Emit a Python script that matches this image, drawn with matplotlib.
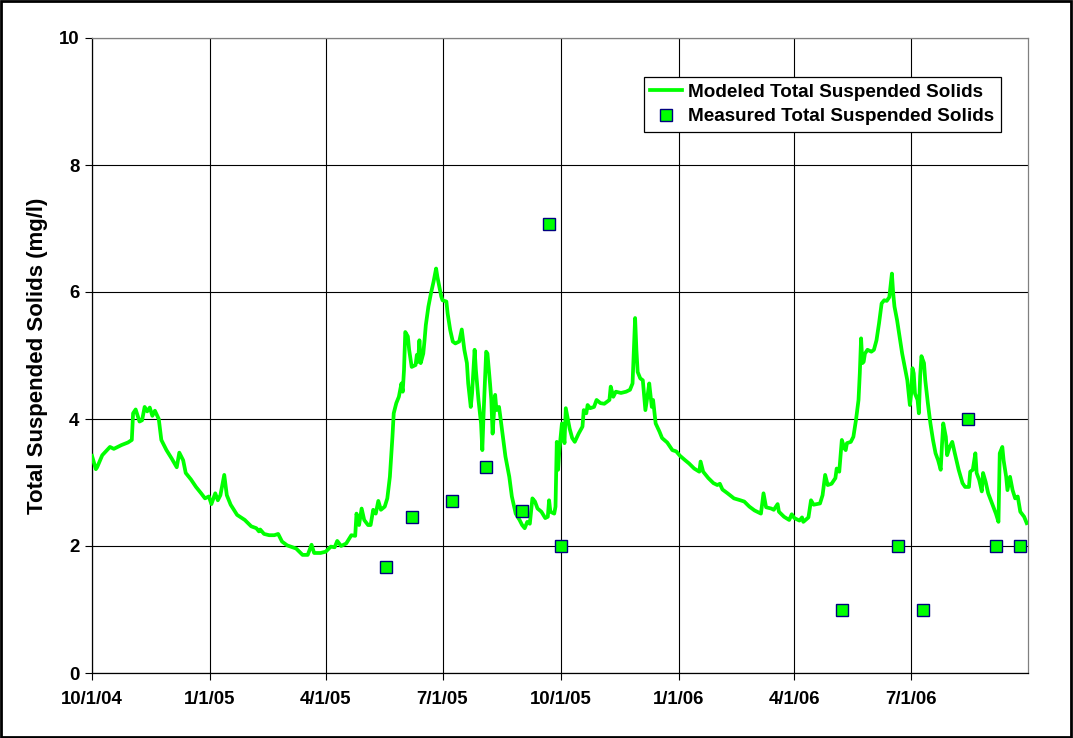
import datetime as dt
import matplotlib
matplotlib.use("Agg")
import matplotlib.pyplot as plt
from matplotlib.patches import Rectangle

# ---------------- data ----------------
base_date = dt.date(2004, 10, 1)

# modeled series: days after 10/1/04 and TSS (mg/l)
model_day = [
    0.0, 3.1, 4.9, 8.8, 14.0, 17.9, 23.1, 28.2, 31.7, 32.9, 34.0, 37.4, 39.9, 41.8, 43.8, 45.7,
    47.5, 49.0, 52.1, 54.7, 58.1, 62.5, 66.1, 68.7, 71.1, 73.7, 77.6, 81.5, 85.4, 88.5, 91.1,
    93.6, 96.3, 98.3, 100.9, 103.5, 105.6, 108.7, 113.9, 119.1, 124.3, 128.2, 130.0, 131.5,
    134.6, 138.5, 142.4, 145.0, 148.1, 152.8, 159.3, 164.4, 168.3, 171.4, 173.5, 178.8, 182.6,
    186.5, 189.1, 191.7, 194.3, 198.2, 202.6, 205.2, 206.5, 208.0, 210.4, 212.5, 215.0, 217.7,
    219.7, 221.5, 223.3, 225.4, 228.0, 230.6, 232.5, 234.0, 235.8, 237.6, 239.7, 241.5, 242.3,
    243.6, 244.4, 246.1, 247.5, 249.6, 252.1, 253.2, 254.5, 255.3, 256.6, 258.4, 259.9, 260.9,
    262.5, 264.4, 266.1, 268.2, 269.8, 272.1, 273.9, 276.0, 277.3, 279.1, 281.2, 283.8, 286.4,
    288.9, 290.3, 292.1, 293.6, 295.5, 296.7, 298.3, 299.8, 301.9, 303.3, 304.5, 305.8, 307.2,
    308.4, 310.3, 311.8, 312.8, 314.4, 315.7, 317.0, 318.8, 320.6, 322.7, 325.3, 327.9, 330.5,
    333.1, 335.6, 337.7, 339.5, 341.4, 343.4, 345.5, 347.3, 350.7, 353.3, 355.1, 356.4, 357.7,
    360.3, 361.6, 362.4, 363.6, 364.7, 366.3, 368.1, 369.9, 372.0, 374.5, 376.4, 379.8, 382.3,
    383.7, 385.8, 386.8, 388.9, 391.4, 393.5, 396.7, 399.8, 403.1, 404.9, 406.5, 408.3, 412.2,
    416.1, 419.5, 421.2, 422.6, 423.3, 424.4, 425.7, 427.8, 429.8, 431.7, 433.5, 434.8, 436.0,
    437.6, 439.5, 442.0, 444.6, 448.5, 452.4, 455.8, 458.4, 462.0, 465.4, 469.3, 473.2, 474.5,
    476.5, 480.2, 484.8, 487.4, 489.3, 491.3, 495.2, 500.4, 505.6, 508.2, 512.1, 516.0, 521.2,
    523.2, 525.1, 529.0, 531.5, 534.1, 535.4, 539.3, 543.2, 545.0, 547.1, 551.0, 553.5, 554.9,
    558.8, 560.9, 562.6, 567.9, 569.6, 571.2, 573.0, 576.9, 579.5, 580.8, 582.6, 584.2, 586.0,
    587.3, 588.6, 591.2, 593.0, 595.1, 597.1, 598.2, 599.0, 600.2, 601.6, 602.9, 604.9, 607.6,
    609.3, 611.1, 613.2, 615.3, 617.1, 619.7, 621.8, 623.1, 624.1, 625.7, 627.5, 629.3, 631.4,
    633.5, 635.3, 637.1, 638.1, 639.1, 640.5, 641.8, 643.0, 644.4, 645.7, 646.9, 648.2, 649.6,
    651.6, 653.5, 655.3, 657.3, 659.4, 661.2, 662.5, 663.8, 665.1, 666.4, 668.2, 670.3, 672.9,
    675.5, 678.1, 680.7, 683.3, 684.6, 686.4, 688.0, 689.7, 691.6, 693.2, 694.9, 696.7, 698.8,
    701.4, 704.0, 706.6, 707.9, 709.2, 710.5, 712.3, 713.8, 715.7, 717.5, 719.6, 721.6, 723.5,
    726.1, 728.9,
]
model_tss = [
    3.42, 3.21, 3.24, 3.43, 3.56, 3.53, 3.59, 3.63, 3.67, 4.09, 4.15, 3.96, 3.98, 4.19, 4.12, 4.18,
    4.05, 4.13, 4.00, 3.67, 3.51, 3.38, 3.24, 3.47, 3.35, 3.15, 3.05, 2.93, 2.83, 2.75, 2.78,
    2.66, 2.83, 2.72, 2.80, 3.12, 2.80, 2.65, 2.49, 2.41, 2.31, 2.28, 2.23, 2.26,
    2.19, 2.17, 2.17, 2.19, 2.07, 2.01, 1.96, 1.86, 1.86, 2.02, 1.89, 1.89, 1.91,
    1.99, 1.98, 2.08, 2.00, 2.04, 2.17, 2.16, 2.51, 2.33, 2.59, 2.41, 2.33, 2.33,
    2.57, 2.51, 2.71, 2.57, 2.62, 2.75, 3.09, 3.72, 4.09, 4.25, 4.35, 4.56, 4.43,
    4.77, 5.37, 5.30, 5.09, 4.82, 4.85, 5.01, 4.90, 5.24, 4.88, 5.03, 5.24, 5.48,
    5.77, 5.98, 6.16, 6.37, 6.24, 5.93, 5.87, 5.85, 5.66, 5.40, 5.22, 5.19, 5.22,
    5.41, 5.09, 4.88, 4.56, 4.19, 4.40, 5.09, 4.77, 4.30, 3.93, 3.51, 4.09, 5.06,
    5.03, 4.56, 4.30, 3.77, 4.38, 4.14, 4.19, 4.04, 3.72, 3.41, 3.09, 2.78, 2.51,
    2.41, 2.33, 2.28, 2.38, 2.35, 2.75, 2.70, 2.59, 2.54, 2.44, 2.46, 2.72, 2.54,
    2.51, 2.62, 3.64, 3.20, 3.51, 3.93, 3.62, 4.17, 3.85, 3.70, 3.64, 3.77, 3.88,
    4.14, 4.09, 4.22, 4.17, 4.19, 4.30, 4.25, 4.24, 4.30, 4.51, 4.35, 4.43, 4.41,
    4.43, 4.46, 4.56, 5.09, 5.59, 5.09, 4.74, 4.64, 4.61, 4.14, 4.41, 4.56, 4.19,
    4.30, 3.93, 3.80, 3.70, 3.63, 3.51, 3.49, 3.42, 3.35, 3.30, 3.22, 3.17, 3.33,
    3.17, 3.07, 2.99, 2.96, 2.98, 2.89, 2.83, 2.75, 2.72, 2.70, 2.62, 2.56, 2.51,
    2.83, 2.61, 2.59, 2.57, 2.66, 2.54, 2.46, 2.41, 2.50, 2.44, 2.40, 2.45, 2.38,
    2.45, 2.72, 2.65, 2.67, 2.80, 3.12, 2.96, 2.98, 3.07, 3.22, 3.17, 3.67, 3.54,
    3.51, 3.62, 3.64, 3.72, 3.98, 4.30, 4.72, 5.27, 4.88, 4.90, 5.03, 5.09, 5.06,
    5.09, 5.24, 5.51, 5.82, 5.87, 5.86, 5.92, 6.29, 5.98, 5.77, 5.56, 5.30, 5.03,
    4.82, 4.61, 4.22, 4.40, 4.80, 4.72, 4.40, 4.30, 4.09, 4.67, 4.99, 4.88, 4.61,
    4.25, 3.93, 3.67, 3.46, 3.35, 3.20, 3.59, 3.93, 3.72, 3.43, 3.56, 3.64, 3.46,
    3.20, 2.99, 2.93, 2.93, 3.17, 3.20, 3.46, 3.15, 3.04, 2.86, 3.15, 3.01, 2.83,
    2.67, 2.51, 2.38, 3.46, 3.56, 3.35, 3.09, 2.88, 3.09, 2.88, 2.75, 2.78, 2.54,
    2.46, 2.36,
]

# measured samples
meas_dates = ["2005-05-18", "2005-06-07", "2005-07-08", "2005-08-04", "2005-09-01",
              "2005-09-22", "2005-10-01", "2006-05-08", "2006-06-21", "2006-07-10",
              "2006-08-14", "2006-09-05", "2006-09-24"]
meas_tss = [1.67, 2.46, 2.71, 3.24, 2.55, 7.07, 2.0, 1.0, 2.0, 1.0, 4.0, 2.0, 2.0]

tick_dates = ["2004-10-01", "2005-01-01", "2005-04-01", "2005-07-01", "2005-10-01",
              "2006-01-01", "2006-04-01", "2006-07-01"]
tick_labels = ["10/1/04", "1/1/05", "4/1/05", "7/1/05", "10/1/05", "1/1/06", "4/1/06", "7/1/06"]
y_ticks = [0, 2, 4, 6, 8, 10]

# ---------------- plot ----------------
plt.rcParams['font.family'] = ['Liberation Sans', 'DejaVu Sans']
plt.rcParams['font.weight'] = 'bold'

fig = plt.figure(figsize=(10.73, 7.38), dpi=100)
ax = fig.add_axes([92 / 1073, 1 - 673 / 738, (1028 - 92) / 1073, (673 - 38) / 738])

mx = [base_date + dt.timedelta(days=d) for d in model_day]
md = [dt.date.fromisoformat(s) for s in meas_dates]

ax.plot(mx, model_tss, color='#00FF00', lw=2.7, label='Modeled Total Suspended Solids',
        solid_joinstyle='round', zorder=3)
ax.plot(md, meas_tss, ls='none', marker='s', ms=8, mfc='#00FF00', mec='#000080', mew=1.0,
        label='Measured Total Suspended Solids', zorder=4)

ax.set_xlim(dt.date(2004, 10, 1), dt.date(2006, 9, 30))
ax.set_ylim(0, 10)
ax.set_xticks([dt.date.fromisoformat(s) for s in tick_dates])
ax.set_xticklabels(tick_labels, fontsize=13.4, fontweight='bold')
ax.set_yticks(y_ticks)
ax.set_yticklabels([str(v) for v in y_ticks], fontsize=13.4, fontweight='bold')

ax.grid(True, color='black', lw=0.8)
ax.tick_params(axis='both', direction='out', length=5, width=0.8, color='black')
ax.tick_params(axis='x', pad=8)
ax.tick_params(axis='y', pad=4)

for s in ['left', 'bottom']:
    ax.spines[s].set_color('black')
    ax.spines[s].set_linewidth(0.9)
for s in ['top', 'right']:
    ax.spines[s].set_color('#808080')
    ax.spines[s].set_linewidth(0.9)

ax.set_ylabel('Total Suspended Solids (mg/l)', fontsize=16, fontweight='bold', labelpad=8)

leg = ax.legend(loc='upper left', bbox_to_anchor=(0.5895, 0.9386), fontsize=13.6,
                frameon=True, fancybox=False, framealpha=1, edgecolor='black',
                handlelength=1.65, handletextpad=0.35, borderpad=0.35, labelspacing=0.38,
                borderaxespad=0)
leg.get_frame().set_linewidth(0.9)
for t in leg.get_texts():
    t.set_fontweight('bold')

fig.patches.append(Rectangle((0.001, 0.001), 0.997, 0.997, transform=fig.transFigure,
                             fill=False, edgecolor='black', lw=2))

fig.savefig('out.png', dpi=100)
